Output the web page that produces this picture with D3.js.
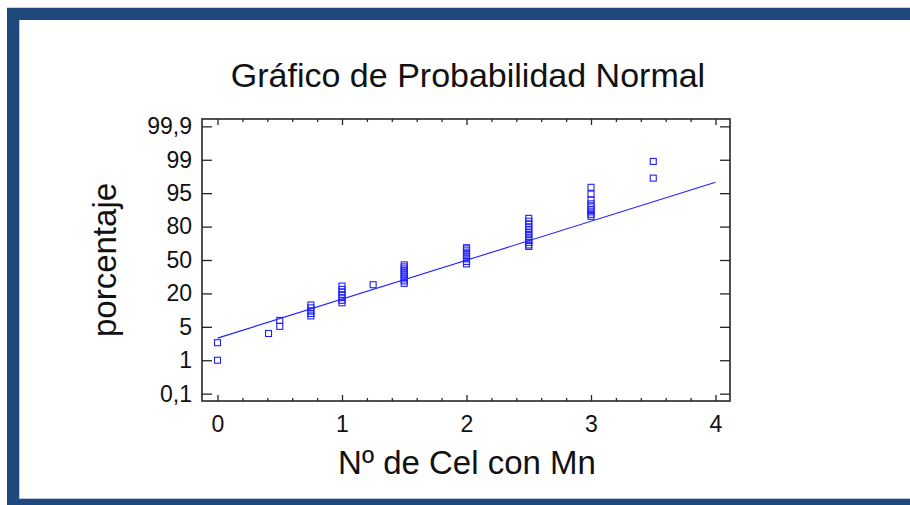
<!DOCTYPE html>
<html>
<head>
<meta charset="utf-8">
<script src="https://cdn.jsdelivr.net/npm/d3@7"></script>
<style>
  html, body { margin: 0; padding: 0; background: #ffffff; }
  svg { display: block; font-family: "Liberation Sans", Arial, sans-serif; }
</style>
</head>
<body>
<svg id="chart" width="910" height="505"></svg>
<script>
// Number of cells with Mn for each observation
const nCel = [
  0, 0,
  0.41,
  0.5, 0.5,
  0.75, 0.75, 0.75, 0.75, 0.75,
  1, 1, 1, 1, 1, 1, 1,
  1.25,
  1.5, 1.5, 1.5, 1.5, 1.5, 1.5, 1.5, 1.5, 1.5, 1.5,
  2, 2, 2, 2, 2, 2, 2, 2, 2,
  2.5, 2.5, 2.5, 2.5, 2.5, 2.5, 2.5, 2.5, 2.5, 2.5, 2.5, 2.5,
  3, 3, 3, 3, 3, 3, 3, 3, 3,
  3.5, 3.5
];
// Cumulative percentage (plotting position) of each observation
const porcentaje = [
  1.0, 3.1,
  4.2,
  5.2, 7.9,
  9.9, 11.0, 12.1, 13.5, 14.8,
  15.8, 16.9, 18.1, 19.4, 21.2, 23.6, 26.6,
  27.8,
  29.0, 31.2, 33.0, 34.8, 36.6, 38.4, 40.2, 42.0, 43.8, 45.6,
  46.5, 48.7, 51.0, 52.8, 54.6, 56.4, 58.2, 60.0, 61.0,
  62.2, 63.5, 65.8, 68.1, 70.5, 72.8, 75.1, 77.5, 79.8, 81.2, 82.4, 83.7,
  84.6, 85.5, 86.6, 87.7, 88.8, 90.2, 92.0, 94.6, 95.7,
  96.8, 98.8
];
// Fitted normal reference line (ends)
const fitX = [0, 4];
const fitPct = [3.65, 96.3];

// Axis ticks
const xTickValues = [0, 1, 2, 3, 4];
const xMinorStep = 0.2;
const yTickValues = [0.1, 1, 5, 20, 50, 80, 95, 99, 99.9];
const yTickLabels = ["0,1", "1", "5", "20", "50", "80", "95", "99", "99,9"];

const titleText = "Gráfico de Probabilidad Normal";
const xTitle = "Nº de Cel con Mn";
const yTitle = "porcentaje";

// ---- layout ----
const W = 910, H = 505;
const plot = { left: 202, right: 730, top: 119, bottom: 401 };
const frameColor = "#1f497d";
const markColor = "#2020ff";
const axisColor = "#262626";

const svg = d3.select("#chart");

// outer frame bands (top, left, bottom)
svg.append("rect").attr("x", 0).attr("y", 0).attr("width", W).attr("height", H).attr("fill", "#ffffff");
svg.append("line").attr("x1", 7).attr("x2", W).attr("y1", 7.5).attr("y2", 7.5).attr("stroke", "#c9d3e0").attr("stroke-width", 1);
svg.append("rect").attr("x", 7).attr("y", 8).attr("width", W - 7).attr("height", 12).attr("fill", frameColor);
svg.append("rect").attr("x", 7).attr("y", 8).attr("width", 12).attr("height", H - 8).attr("fill", frameColor);
svg.append("rect").attr("x", 7).attr("y", 499).attr("width", W - 7).attr("height", 6).attr("fill", frameColor);
svg.append("line").attr("x1", 19.5).attr("x2", 19.5).attr("y1", 20).attr("y2", 499).attr("stroke", "#b8c8de").attr("stroke-width", 1);
svg.append("line").attr("x1", 19).attr("x2", W).attr("y1", 498.5).attr("y2", 498.5).attr("stroke", "#b8c8de").attr("stroke-width", 1);

// ---- scales ----
const x = d3.scaleLinear().domain([0, 4]).range([217.5, 715.5]);

// probability labels sit evenly spaced along the axis
const yIdx = d3.scalePoint()
  .domain(yTickLabels)
  .range([plot.bottom, plot.top])
  .padding(0.22);
const y = d3.scaleLinear()
  .domain(yTickValues)
  .range(yTickLabels.map(l => yIdx(l)));

const fontFam = '"Liberation Sans", Arial, sans-serif';

// ---- title ----
svg.append("text")
  .attr("x", 468).attr("y", 87)
  .attr("text-anchor", "middle")
  .attr("font-size", 34)
  .attr("fill", "#111")
  .text(titleText);

// ---- axes ----
const g = svg.append("g");

// bottom axis: major + minor ticks pointing inward
const minorTicks = d3.range(0, 4 + 1e-9, xMinorStep).filter(v => Math.abs(v - Math.round(v)) > 1e-6);
g.append("g")
  .attr("transform", `translate(0,${plot.bottom})`)
  .call(d3.axisBottom(x).tickValues(minorTicks).tickSize(-3).tickFormat(""))
  .call(a => a.select(".domain").remove());
g.append("g")
  .attr("transform", `translate(0,${plot.bottom})`)
  .call(d3.axisBottom(x).tickValues(xTickValues).tickSize(-6).tickPadding(20).tickFormat(d3.format("d")))
  .call(a => a.select(".domain").remove())
  .call(a => a.selectAll("text").attr("font-size", 23).attr("font-family", fontFam).attr("fill", "#111").attr("dy", "0.75em").attr("y", 14));

// top axis mirrors
g.append("g")
  .attr("transform", `translate(0,${plot.top})`)
  .call(d3.axisTop(x).tickValues(minorTicks).tickSize(-3).tickFormat(""))
  .call(a => a.select(".domain").remove());
g.append("g")
  .attr("transform", `translate(0,${plot.top})`)
  .call(d3.axisTop(x).tickValues(xTickValues).tickSize(-6).tickFormat(""))
  .call(a => a.select(".domain").remove());

// left axis with probability labels
g.append("g")
  .attr("transform", `translate(${plot.left},0)`)
  .call(d3.axisLeft(y).tickValues(yTickValues).tickSize(-10).tickPadding(20)
    .tickFormat((d, i) => yTickLabels[i]))
  .call(a => a.select(".domain").remove())
  .call(a => a.selectAll("text").attr("font-size", 23).attr("font-family", fontFam).attr("fill", "#111").attr("x", -10));

// right axis mirrors
g.append("g")
  .attr("transform", `translate(${plot.right},0)`)
  .call(d3.axisRight(y).tickValues(yTickValues).tickSize(-10).tickFormat(""))
  .call(a => a.select(".domain").remove());

g.selectAll(".tick line").attr("stroke", axisColor).attr("stroke-width", 1.3);

// plot frame
svg.append("rect")
  .attr("x", plot.left).attr("y", plot.top)
  .attr("width", plot.right - plot.left).attr("height", plot.bottom - plot.top)
  .attr("fill", "none").attr("stroke", axisColor).attr("stroke-width", 1.6);

// ---- fitted line ----
const fitData = fitX.map((v, i) => ({ x: v, p: fitPct[i] }));
svg.append("path")
  .datum(fitData)
  .attr("d", d3.line().x(d => x(d.x)).y(d => y(d.p)))
  .attr("fill", "none")
  .attr("stroke", markColor)
  .attr("stroke-width", 1.1);

// ---- observations ----
const pts = nCel.map((v, i) => ({ x: v, p: porcentaje[i] }));
const sq = 6;
svg.append("g")
  .selectAll("rect")
  .data(pts)
  .join("rect")
  .attr("x", d => x(d.x) - sq / 2)
  .attr("y", d => y(d.p) - sq / 2)
  .attr("width", sq).attr("height", sq)
  .attr("fill", "none")
  .attr("stroke", markColor)
  .attr("stroke-width", 1.1);

// ---- axis titles ----
svg.append("text")
  .attr("x", 467).attr("y", 474)
  .attr("text-anchor", "middle")
  .attr("font-size", 33)
  .attr("fill", "#111")
  .text(xTitle);

svg.append("text")
  .attr("transform", "translate(116,260) rotate(-90)")
  .attr("text-anchor", "middle")
  .attr("font-size", 33)
  .attr("fill", "#111")
  .text(yTitle);
</script>
</body>
</html>
